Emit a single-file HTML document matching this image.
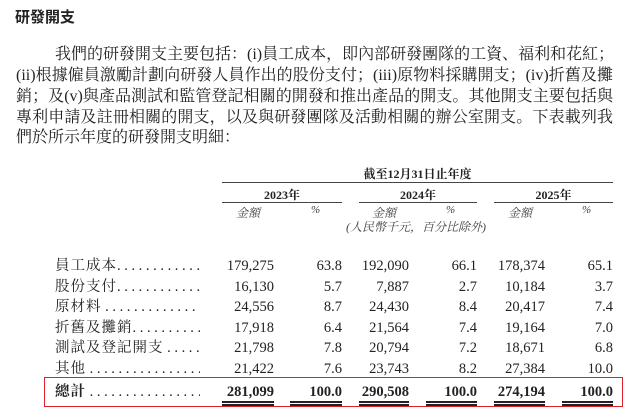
<!DOCTYPE html>
<html><head><meta charset="utf-8"><style>
body{margin:0;width:640px;height:419px;background:#fff;position:relative;overflow:hidden;font-family:"Liberation Serif","Noto Serif CJK SC",serif;color:#222}
.a{position:absolute;white-space:nowrap}
.p{position:absolute;left:16px;width:597px;font-size:16px;line-height:20px;text-align:justify;text-align-last:justify;white-space:nowrap}
.r{position:absolute;text-align:right;font-size:14.5px;line-height:18px}
.c{position:absolute;text-align:center}
.ln{position:absolute;height:1px;background:#444}
.lab{position:absolute;left:55px;width:145px;overflow:hidden;white-space:nowrap;font-size:14.5px;line-height:18px}
.lab span{letter-spacing:1px}
.lab i{font-style:normal;letter-spacing:3.6px;font-family:"Liberation Serif",serif}
.dd{position:absolute;height:2px;background:#222}
</style></head><body>
<div class="a" style="left:15px;top:6px;font-size:15px;font-weight:bold;font-family:'Noto Sans CJK TC',sans-serif">研發開支</div>
<div class="p" style="top:45px;left:55px;width:558px">我們的研發開支主要包括：(i)員工成本，即內部研發團隊的工資、福利和花紅；</div>
<div class="p" style="top:66px">(ii)根據僱員激勵計劃向研發人員作出的股份支付；(iii)原物料採購開支；(iv)折舊及攤</div>
<div class="p" style="top:87px">銷；及(v)與產品測試和監管登記相關的開發和推出產品的開支。其他開支主要包括與</div>
<div class="p" style="top:108px">專利申請及註冊相關的開支，以及與研發團隊及活動相關的辦公室開支。下表載列我</div>
<div class="p" style="top:128px;text-align-last:left">們於所示年度的研發開支明細：</div>

<div class="c" style="left:222px;width:391px;top:165px;font-size:12px;font-weight:bold">截至12月31日止年度</div>
<div class="ln" style="left:222px;width:391px;top:182px"></div>
<div class="c" style="left:222px;width:120px;top:186px;font-size:12px;font-weight:bold">2023年</div>
<div class="c" style="left:359px;width:118px;top:186px;font-size:12px;font-weight:bold">2024年</div>
<div class="c" style="left:494px;width:119px;top:186px;font-size:12px;font-weight:bold">2025年</div>
<div class="ln" style="left:222px;width:120px;top:202px"></div>
<div class="ln" style="left:359px;width:118px;top:202px"></div>
<div class="ln" style="left:494px;width:119px;top:202px"></div>
<div class="a" style="left:236px;top:204px;font-size:12px;font-style:italic;color:#444">金額</div>
<div class="a" style="left:311px;top:204px;font-size:11px;font-style:italic;color:#444">%</div>
<div class="a" style="left:372px;top:204px;font-size:12px;font-style:italic;color:#444">金額</div>
<div class="a" style="left:446px;top:204px;font-size:11px;font-style:italic;color:#444">%</div>
<div class="a" style="left:508px;top:204px;font-size:12px;font-style:italic;color:#444">金額</div>
<div class="a" style="left:582px;top:204px;font-size:11px;font-style:italic;color:#444">%</div>
<div class="c" style="left:336px;width:160px;top:218px;font-size:12px;font-style:italic;color:#444">(人民幣千元，百分比除外)</div>

<div class="lab" style="top:257px"><span>員工成本</span><i>........................</i></div>
<div class="lab" style="top:278px"><span>股份支付</span><i>........................</i></div>
<div class="lab" style="top:298px"><span>原材料</span> <i>........................</i></div>
<div class="lab" style="top:319px"><span>折舊及攤銷</span><i>........................</i></div>
<div class="lab" style="top:339px"><span>測試及登記開支</span> <i>........................</i></div>
<div class="lab" style="top:360px"><span>其他</span> <i>............................</i></div>
<div class="lab" style="top:383px"><span style="font-weight:bold">總計</span> <i>............................</i></div>

<div class="r" style="left:200px;width:74px;top:257px">179,275</div><div class="r" style="left:280px;width:62px;top:257px">63.8</div><div class="r" style="left:340px;width:69px;top:257px">192,090</div><div class="r" style="left:420px;width:57px;top:257px">66.1</div><div class="r" style="left:480px;width:65px;top:257px">178,374</div><div class="r" style="left:550px;width:63px;top:257px">65.1</div>
<div class="r" style="left:200px;width:74px;top:278px">16,130</div><div class="r" style="left:280px;width:62px;top:278px">5.7</div><div class="r" style="left:340px;width:69px;top:278px">7,887</div><div class="r" style="left:420px;width:57px;top:278px">2.7</div><div class="r" style="left:480px;width:65px;top:278px">10,184</div><div class="r" style="left:550px;width:63px;top:278px">3.7</div>
<div class="r" style="left:200px;width:74px;top:298px">24,556</div><div class="r" style="left:280px;width:62px;top:298px">8.7</div><div class="r" style="left:340px;width:69px;top:298px">24,430</div><div class="r" style="left:420px;width:57px;top:298px">8.4</div><div class="r" style="left:480px;width:65px;top:298px">20,417</div><div class="r" style="left:550px;width:63px;top:298px">7.4</div>
<div class="r" style="left:200px;width:74px;top:319px">17,918</div><div class="r" style="left:280px;width:62px;top:319px">6.4</div><div class="r" style="left:340px;width:69px;top:319px">21,564</div><div class="r" style="left:420px;width:57px;top:319px">7.4</div><div class="r" style="left:480px;width:65px;top:319px">19,164</div><div class="r" style="left:550px;width:63px;top:319px">7.0</div>
<div class="r" style="left:200px;width:74px;top:339px">21,798</div><div class="r" style="left:280px;width:62px;top:339px">7.8</div><div class="r" style="left:340px;width:69px;top:339px">20,794</div><div class="r" style="left:420px;width:57px;top:339px">7.2</div><div class="r" style="left:480px;width:65px;top:339px">18,671</div><div class="r" style="left:550px;width:63px;top:339px">6.8</div>
<div class="r" style="left:200px;width:74px;top:360px">21,422</div><div class="r" style="left:280px;width:62px;top:360px">7.6</div><div class="r" style="left:340px;width:69px;top:360px">23,743</div><div class="r" style="left:420px;width:57px;top:360px">8.2</div><div class="r" style="left:480px;width:65px;top:360px">27,384</div><div class="r" style="left:550px;width:63px;top:360px">10.0</div>
<div style="font-weight:bold">
<div class="r" style="left:200px;width:74px;top:383px">281,099</div><div class="r" style="left:280px;width:62px;top:383px">100.0</div><div class="r" style="left:340px;width:69px;top:383px">290,508</div><div class="r" style="left:420px;width:57px;top:383px">100.0</div><div class="r" style="left:480px;width:65px;top:383px">274,194</div><div class="r" style="left:550px;width:63px;top:383px">100.0</div>
</div>
<div class="dd" style="left:222px;width:52px;top:401px"></div><div class="dd" style="left:222px;width:52px;top:404px"></div>
<div class="dd" style="left:290px;width:52px;top:401px"></div><div class="dd" style="left:290px;width:52px;top:404px"></div>
<div class="dd" style="left:359px;width:50px;top:401px"></div><div class="dd" style="left:359px;width:50px;top:404px"></div>
<div class="dd" style="left:426px;width:51px;top:401px"></div><div class="dd" style="left:426px;width:51px;top:404px"></div>
<div class="dd" style="left:494px;width:51px;top:401px"></div><div class="dd" style="left:494px;width:51px;top:404px"></div>
<div class="dd" style="left:562px;width:51px;top:401px"></div><div class="dd" style="left:562px;width:51px;top:404px"></div>
<div style="position:absolute;left:44px;top:377px;width:577px;height:28px;border:1.5px solid #e0202a"></div>
</body></html>
